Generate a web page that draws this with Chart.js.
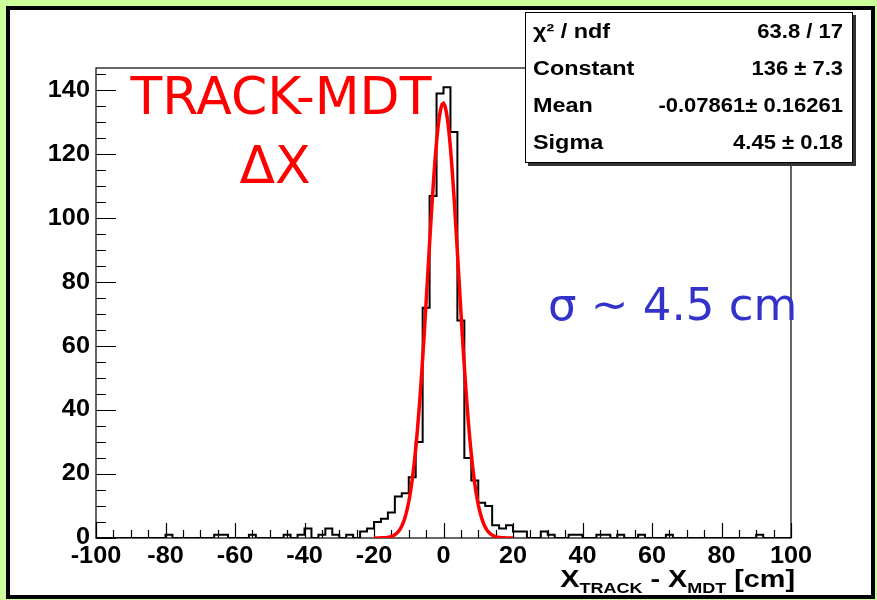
<!DOCTYPE html>
<html>
<head>
<meta charset="utf-8">
<script src="https://cdn.jsdelivr.net/npm/chart.js@4.4.1/dist/chart.umd.min.js"></script>
<style>
  html, body { margin: 0; padding: 0; background: #ccff99; }
  #wrap { width: 877px; height: 600px; }
</style>
</head>
<body>
<div id="wrap"><canvas id="hist" width="877" height="600"></canvas></div>
<script>
// histogram: 100 bins of 2 cm from -100 to 100
const xMin = -100;
const binWidth = 2;
const counts = [
  0, 0, 0, 0, 0, 0, 0, 0, 0, 0,      // -100 .. -80
  1, 0, 0, 0, 0, 0, 0, 1, 1, 0,      // -80 .. -60
  0, 0, 1, 0, 0, 0, 0, 1, 0, 1,      // -60 .. -40
  3, 0, 1, 3, 1, 0, 1, 0, 2, 3,      // -40 .. -20
  5, 6, 8, 13, 14, 19, 30, 72, 107, 139, // -20 .. 0
  141, 127, 68, 25, 18, 11, 10, 4, 3, 4, // 0 .. 20
  2, 2, 0, 0, 2, 1, 0, 0, 1, 1,      // 20 .. 40
  0, 0, 1, 1, 0, 1, 0, 0, 1, 0,      // 40 .. 60
  0, 0, 1, 0, 0, 0, 0, 0, 0, 0,      // 60 .. 80
  0, 0, 0, 0, 0, 1, 0, 0, 0, 0       // 80 .. 100
];

// gaussian fit (values from the stats box), drawn over [-20, 20]
const fitNames = ['Constant', 'Mean', 'Sigma'];
const fitValues = [136, -0.07861, 4.45];
const fitRange = [-20, 20];

const statLabels = ['\u03c7\u00b2 / ndf', 'Constant', 'Mean', 'Sigma'];
const statTexts = ['63.8 / 17', '136 \u00b1 7.3', '-0.07861\u00b1 0.16261', '4.45 \u00b1 0.18'];

const xTicks = [-100, -80, -60, -40, -20, 0, 20, 40, 60, 80, 100];
const yTicks = [0, 20, 40, 60, 80, 100, 120, 140];
const minorStep = 5;
const yMax = 147;

// histogram outline: one point at the left edge of each bin, held to the next edge
const histPoints = counts.map((c, i) => ({ x: xMin + i * binWidth, y: c }));
histPoints.push({ x: xMin + counts.length * binWidth, y: counts[counts.length - 1] });

const fitPoints = [];
for (let i = 0; i <= 100; i++) {
  const x = fitRange[0] + (fitRange[1] - fitRange[0]) * i / 100;
  const d = (x - fitValues[1]) / fitValues[2];
  fitPoints.push({ x: x, y: fitValues[0] * Math.exp(-0.5 * d * d) });
}

function txt(c, s, x, y, font, color, align, sx, base) {
  c.save();
  c.font = font;
  c.fillStyle = color;
  c.textAlign = align;
  c.textBaseline = base || 'middle';
  c.translate(x, y);
  c.scale(sx, 1);
  c.fillText(s, 0, 0);
  c.restore();
}

const rootStyle = {
  id: 'rootStyle',
  beforeDraw(chart) {
    const c = chart.ctx;
    c.save();
    c.fillStyle = '#ccff99';
    c.fillRect(0, 0, 877, 600);
    c.fillStyle = '#ffffff';
    c.fillRect(8, 8, 865, 589);
    c.strokeStyle = '#000';
    c.lineWidth = 4;
    c.strokeRect(8, 8, 865, 589);
    c.restore();
  },
  beforeDatasetsDraw(chart) {
    const c = chart.ctx;
    const a = chart.chartArea;
    const xs = chart.scales.x, ys = chart.scales.y;
    c.save();
    c.strokeStyle = '#000';
    c.lineWidth = 1.2;
    c.strokeRect(a.left, a.top, a.right - a.left, a.bottom - a.top);
    c.beginPath();
    for (let v = xTicks[0]; v <= xTicks[xTicks.length - 1]; v += minorStep) {
      const px = Math.round(xs.getPixelForValue(v)) + 0.5;
      const len = xTicks.includes(v) ? 15 : 8;
      c.moveTo(px, a.bottom);
      c.lineTo(px, a.bottom - len);
    }
    for (let v = 0; v <= yMax; v += minorStep) {
      const py = Math.round(ys.getPixelForValue(v)) + 0.5;
      const len = yTicks.includes(v) ? 20 : 10;
      c.moveTo(a.left, py);
      c.lineTo(a.left + len, py);
    }
    c.stroke();
    c.restore();
  },
  afterDatasetsDraw(chart) {
    const c = chart.ctx;
    const a = chart.chartArea;
    const xs = chart.scales.x, ys = chart.scales.y;
    const tickFont = 'bold 23px "Liberation Sans", Arial, sans-serif';

    yTicks.forEach(v => {
      txt(c, String(v), a.left - 6, ys.getPixelForValue(v), tickFont, '#000', 'right', 1.1);
    });
    xTicks.forEach(v => {
      txt(c, String(v), xs.getPixelForValue(v), 557, tickFont, '#000', 'center', 1.1);
    });

    // axis title X_TRACK - X_MDT [cm], right aligned to the axis end
    const big = 'bold 24px "Liberation Sans", Arial, sans-serif';
    const small = 'bold 15px "Liberation Sans", Arial, sans-serif';
    const parts = [['X', big, 0], ['TRACK', small, 6], [' - X', big, 0], ['MDT', small, 6], [' [cm]', big, 0]];
    const sx = 1.2;
    let total = 0;
    parts.forEach(p => { c.font = p[1]; total += c.measureText(p[0]).width * sx; });
    let px = a.right + 4 - total;
    parts.forEach(p => {
      txt(c, p[0], px, 587 + p[2], p[1], '#000', 'left', sx, 'alphabetic');
      c.font = p[1];
      px += c.measureText(p[0]).width * sx;
    });

    // stats box
    c.save();
    c.fillStyle = '#333';
    c.fillRect(528, 15, 328, 151);
    c.fillStyle = '#fff';
    c.fillRect(525, 12, 328, 151);
    c.strokeStyle = '#000';
    c.lineWidth = 1;
    c.strokeRect(525.5, 12.5, 327, 150);
    c.restore();
    const statFont = 'bold 20px "Liberation Sans", Arial, sans-serif';
    const rowY = [32, 69, 106, 143];
    statLabels.forEach((s, i) => txt(c, s, 533, rowY[i], statFont, '#000', 'left', 1.17));
    statTexts.forEach((s, i) => txt(c, s, 843, rowY[i], statFont, '#000', 'right', 1.1));

    // annotations
    const hand = '52px "DejaVu Sans", sans-serif';
    txt(c, 'TRACK-MDT', 281, 100, hand, '#ff0000', 'center', 1);
    txt(c, '\u0394X', 275, 169, hand, '#ff0000', 'center', 1);
    txt(c, '\u03c3 ~ 4.5 cm', 548, 308, '45px "DejaVu Sans", sans-serif', '#3333cc', 'left', 1);
  }
};

const ctx = document.getElementById('hist').getContext('2d');
new Chart(ctx, {
  type: 'line',
  data: {
    datasets: [
      {
        label: 'fit',
        data: fitPoints,
        borderColor: '#ff0000',
        borderWidth: 3.5,
        pointRadius: 0,
        tension: 0,
        fill: false
      },
      {
        label: 'hist',
        data: histPoints,
        stepped: 'before',
        borderColor: '#000000',
        borderWidth: 2,
        pointRadius: 0,
        fill: false
      }
    ]
  },
  options: {
    responsive: false,
    animation: false,
    events: [],
    layout: { padding: { left: 96, top: 68, right: 877 - 791, bottom: 600 - 538 } },
    plugins: {
      legend: { display: false },
      tooltip: { enabled: false }
    },
    scales: {
      x: { type: 'linear', min: -100, max: 100, display: false },
      y: { type: 'linear', min: 0, max: yMax, display: false }
    }
  },
  plugins: [rootStyle]
});
</script>
</body>
</html>
